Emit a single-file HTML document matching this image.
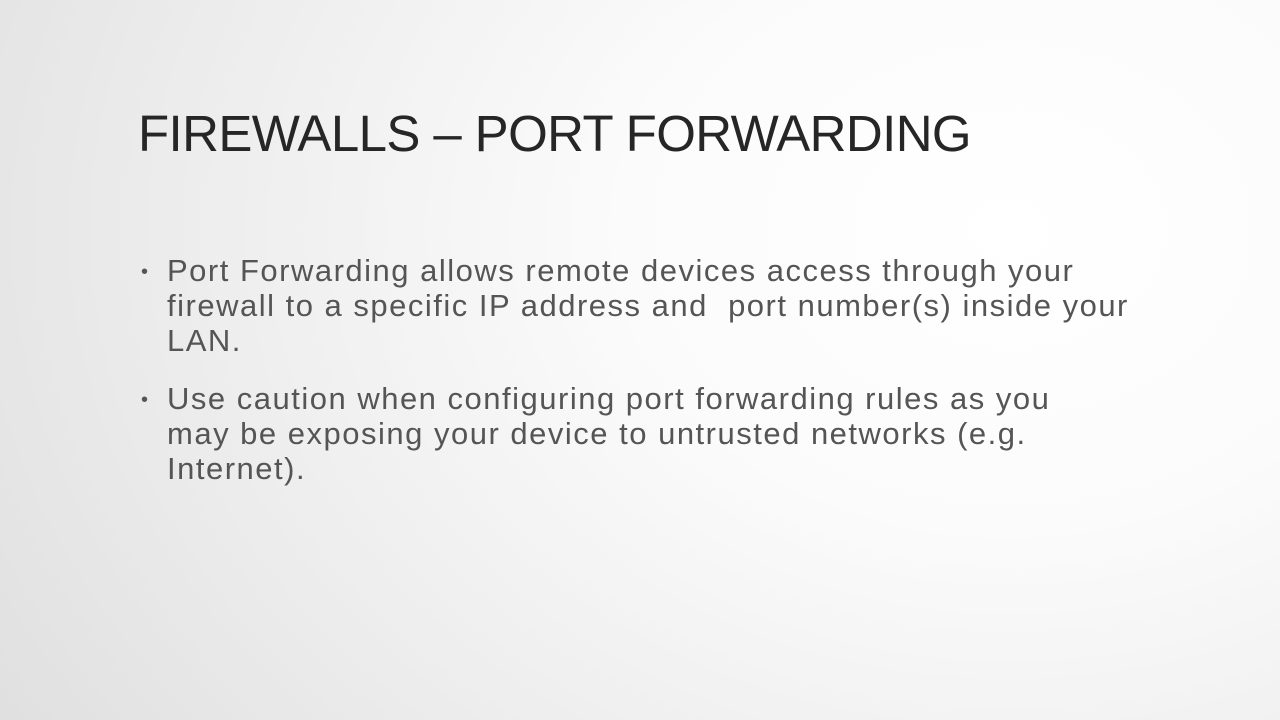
<!DOCTYPE html>
<html><head><meta charset="utf-8"><style>
html,body{margin:0;padding:0}
body{width:1280px;height:720px;overflow:hidden;position:relative;
background:radial-gradient(ellipse 1300px 1000px at 1010px 230px,#ffffff 0%,#fbfbfb 30%,#ececec 65%,#dcdcdc 100%);
font-family:"Liberation Sans",sans-serif;}
.title{position:absolute;left:138px;top:104px;font-size:51px;color:#262626;letter-spacing:-0.6px;white-space:nowrap;line-height:60px;font-weight:normal}
.b{position:absolute;left:167px;font-size:31px;color:#555;line-height:35px;white-space:nowrap;letter-spacing:1.5px}
.dot{position:absolute;left:141px;font-size:20px;color:#555}
</style></head><body>
<div class="title">FIREWALLS – PORT FORWARDING</div>
<div class="dot" style="top:261px">•</div>
<div class="b" style="top:253px">Port Forwarding allows remote devices access through your<br>firewall to a specific IP address and&nbsp; port number(s) inside your<br>LAN.</div>
<div class="dot" style="top:389px">•</div>
<div class="b" style="top:381px">Use caution when configuring port forwarding rules as you<br>may be exposing your device to untrusted networks (e.g.<br>Internet).</div>
</body></html>
